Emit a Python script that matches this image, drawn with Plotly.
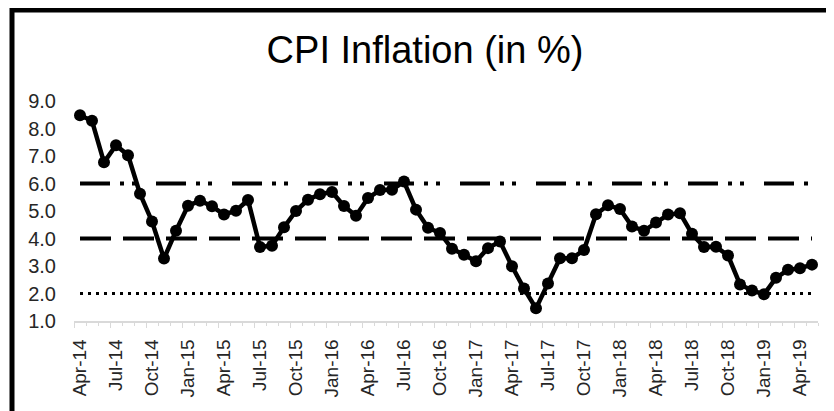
import plotly.graph_objects as go

months = ["Apr-14","May-14","Jun-14","Jul-14","Aug-14","Sep-14","Oct-14","Nov-14","Dec-14",
          "Jan-15","Feb-15","Mar-15","Apr-15","May-15","Jun-15","Jul-15","Aug-15","Sep-15","Oct-15","Nov-15","Dec-15",
          "Jan-16","Feb-16","Mar-16","Apr-16","May-16","Jun-16","Jul-16","Aug-16","Sep-16","Oct-16","Nov-16","Dec-16",
          "Jan-17","Feb-17","Mar-17","Apr-17","May-17","Jun-17","Jul-17","Aug-17","Sep-17","Oct-17","Nov-17","Dec-17",
          "Jan-18","Feb-18","Mar-18","Apr-18","May-18","Jun-18","Jul-18","Aug-18","Sep-18","Oct-18","Nov-18","Dec-18",
          "Jan-19","Feb-19","Mar-19","Apr-19","May-19"]
cpi = [8.48, 8.28, 6.77, 7.39, 7.03, 5.63, 4.62, 3.27, 4.28,
       5.19, 5.37, 5.17, 4.87, 5.01, 5.40, 3.69, 3.74, 4.41, 5.00, 5.41, 5.61,
       5.69, 5.18, 4.83, 5.47, 5.76, 5.77, 6.07, 5.05, 4.39, 4.20, 3.63, 3.41,
       3.17, 3.65, 3.89, 2.99, 2.18, 1.46, 2.36, 3.28, 3.28, 3.58, 4.88, 5.21,
       5.07, 4.44, 4.28, 4.58, 4.87, 4.92, 4.17, 3.69, 3.70, 3.38, 2.33, 2.11,
       1.97, 2.57, 2.86, 2.92, 3.05]
upper_band = 6.0
target = 4.0
lower_band = 2.0
y_ticks = [1.0, 2.0, 3.0, 4.0, 5.0, 6.0, 7.0, 8.0, 9.0]

idx = list(range(len(months)))
label_idx = idx[::3]
label_text = months[::3]

FONT = "Arial, Liberation Sans, sans-serif"

# plot area in figure pixels
L, T, W, H = 66, 93, 744, 220
FIG_W, FIG_H = 834, 411

fig = go.Figure()
fig.add_trace(go.Scatter(x=idx, y=[upper_band] * len(idx), mode="lines",
                         line=dict(color="black", width=4, dash="30px,10px,4px,8px,4px,20px"),
                         hoverinfo="skip", showlegend=False))
fig.add_trace(go.Scatter(x=idx, y=[target] * len(idx), mode="lines",
                         line=dict(color="black", width=4, dash="31px,12px"),
                         hoverinfo="skip", showlegend=False))
fig.add_trace(go.Scatter(x=idx, y=[lower_band] * len(idx), mode="lines",
                         line=dict(color="black", width=3, dash="3px,5px"),
                         hoverinfo="skip", showlegend=False))
fig.add_trace(go.Scatter(x=idx, y=cpi, mode="lines+markers",
                         line=dict(color="black", width=4.5),
                         marker=dict(color="black", size=12),
                         showlegend=False, text=months))
# invisible trace to carry the major tick axis
fig.add_trace(go.Scatter(x=[idx[0]], y=[cpi[0]], xaxis="x2", mode="markers",
                         marker=dict(opacity=0), hoverinfo="skip", showlegend=False))

n = len(months)
fig.update_layout(
    width=FIG_W, height=FIG_H,
    margin=dict(l=L, r=FIG_W - L - W, t=T, b=FIG_H - T - H),
    paper_bgcolor="white", plot_bgcolor="white",
    font=dict(family=FONT, color="#262626"),
    title=dict(text="CPI Inflation (in %)", font=dict(size=38, color="black", family=FONT),
               x=0.5, xanchor="center", xref="container",
               y=1 - 42 / FIG_H, yanchor="middle", yref="container"),
    xaxis=dict(range=[-0.5, n - 0.5], tickmode="array", tickvals=label_idx, ticktext=label_text,
               tickangle=-90, tickfont=dict(size=19, color="#262626"),
               ticks="", showgrid=False, zeroline=False,
               showline=True, linecolor="#d9d9d9", linewidth=1.5,
               minor=dict(tickmode="linear", tick0=-0.5, dtick=1, ticks="outside",
                          ticklen=3, tickcolor="#d9d9d9", tickwidth=1, showgrid=False),
               ticklabelstandoff=9),
    xaxis2=dict(range=[-0.5, n - 0.5], overlaying="x", side="bottom", tickmode="linear",
                tick0=-0.5, dtick=3, ticks="outside", ticklen=6, tickcolor="#d9d9d9",
                tickwidth=1, showticklabels=False, showgrid=False, zeroline=False,
                showline=False),
    yaxis=dict(range=[1, 9], tickvals=y_ticks, tickformat=".1f",
               tickfont=dict(size=20, color="#262626"), ticks="",
               showgrid=False, zeroline=False, showline=False,
               ticklabelstandoff=17),
    shapes=[dict(type="rect", xref="paper", yref="paper",
                 x0=(4 - L) / W, x1=(845 - L) / W,
                 y0=-(430 - T - H) / H, y1=(T + H - 2) / H,
                 line=dict(color="black", width=5), fillcolor="rgba(0,0,0,0)", layer="above")],
)

fig.write_html("out.html")
